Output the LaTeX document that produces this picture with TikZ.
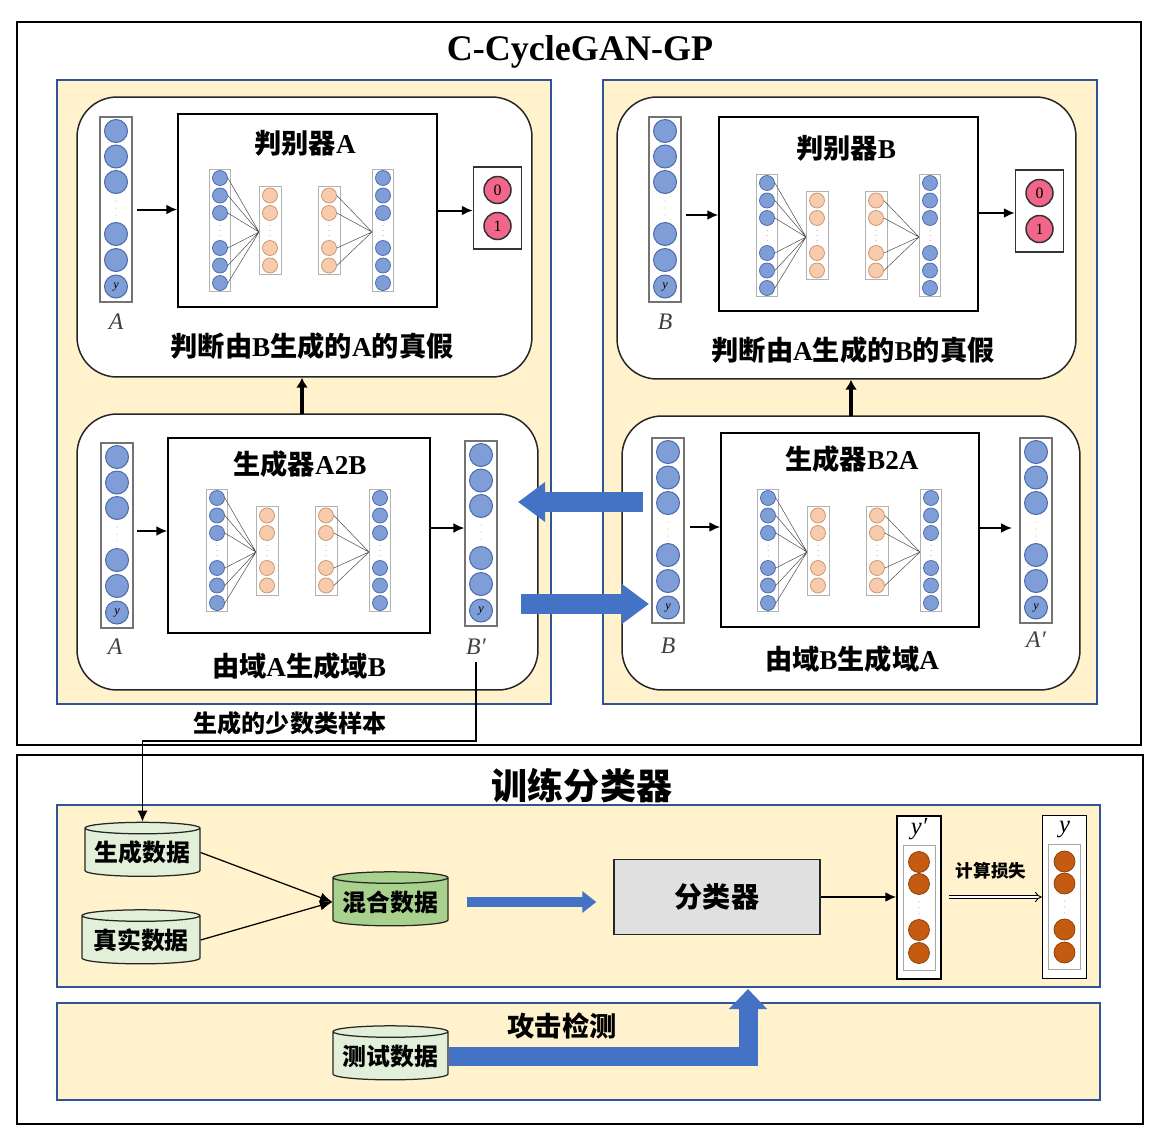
\documentclass[tikz,border=0pt]{standalone}
\usepackage{fontspec}
\setmainfont{Liberation Serif}
\newfontfamily\cjk{Noto Sans CJK SC}
\usetikzlibrary{shapes.geometric,arrows.meta}

\definecolor{panelfill}{HTML}{FFF2CC}
\definecolor{panelline}{HTML}{2F5597}
\definecolor{arrowblue}{HTML}{4472C4}
\definecolor{unitblue}{HTML}{7F9ED8}
\definecolor{unitblueline}{HTML}{4A6AA8}
\definecolor{unitorange}{HTML}{F8CBAD}
\definecolor{unitorangeline}{HTML}{C8956E}
\definecolor{unitpink}{HTML}{F2668B}
\definecolor{unitbrown}{HTML}{C55A11}
\definecolor{datagreen}{HTML}{E2F0D9}
\definecolor{mixgreen}{HTML}{A9D18E}
\definecolor{clsgray}{HTML}{E0E0E0}

\newcommand{\zh}[1]{{\cjk\bfseries #1}}

\tikzset{
    panel/.style={draw=panelline, line width=0.05cm, fill=panelfill, inner sep=0pt},
    frame/.style={draw=black, line width=0.045cm, inner sep=0pt},
    stage/.style={draw=black!85, line width=0.03cm, fill=white, rounded corners=0.8cm, inner sep=0pt},
    netframe/.style={draw=black, line width=0.03cm, fill=white, inner sep=0pt},
    vecbox/.style={draw=black!55, line width=0.025cm, fill=white, inner sep=0pt, minimum width=0.64cm, minimum height=3.7cm},
    colbox/.style={draw=black!30, line width=0.02cm, fill=white, inner sep=0pt},
    bigunit/.style={circle, draw=unitblueline, line width=0.02cm, fill=unitblue, minimum size=0.46cm, inner sep=0pt},
    netunit/.style={circle, draw=unitblueline, line width=0.015cm, fill=unitblue, minimum size=0.3cm, inner sep=0pt},
    hidunit/.style={circle, draw=unitorangeline, line width=0.015cm, fill=unitorange, minimum size=0.3cm, inner sep=0pt},
    outunit/.style={circle, draw=black!80, line width=0.03cm, fill=unitpink, minimum size=0.54cm, inner sep=0pt, font=\fontsize{9}{9}\selectfont},
    predunit/.style={circle, draw=unitbrown!70!black, line width=0.015cm, fill=unitbrown, minimum size=0.42cm, inner sep=0pt},
    wire/.style={draw=black!70, line width=0.01cm},
    flow/.style={-{Latex[length=0.22cm, width=0.2cm]}, line width=0.04cm},
    feed/.style={-{Latex[length=0.2cm, width=0.24cm]}, line width=0.09cm},
    swap/.style={draw=arrowblue, line width=0.4cm, -{Triangle[length=0.54cm, width=0.76cm]}},
    thinswap/.style={draw=arrowblue, line width=0.2cm, -{Triangle[length=0.28cm, width=0.42cm]}},
    data/.style={cylinder, shape border rotate=90, aspect=0.12, draw=black!85, line width=0.025cm, fill=datagreen, minimum width=2.3cm, minimum height=1.08cm, inner sep=0pt, font=\fontsize{13.6}{16}\selectfont},
    heading/.style={font=\fontsize{20.5}{24}\selectfont\bfseries},
    caption/.style={font=\fontsize{15.5}{18}\selectfont\bfseries},
    veclabel/.style={font=\fontsize{13.5}{16}\selectfont\itshape, text=black!75}
}

% three small gray dots around (x,y), #3 apart
\newcommand{\drawdots}[3]{
    \fill[black!40] (#1,#2-#3) circle [radius=0.5];
    \fill[black!40] (#1,#2) circle [radius=0.5];
    \fill[black!40] (#1,#2+#3) circle [radius=0.5];
}

% input column: six units, the last one marked y
\newcommand{\drawvector}[3]{
    \node[vecbox] (#1) at (#2,#3+78.5) {};
    \node[bigunit] (#1u1) at (#2,#3) {};
    \node[bigunit] (#1u2) at (#2,#3+25.5) {};
    \node[bigunit] (#1u3) at (#2,#3+51) {};
    \drawdots{#2}{#3+77}{7}
    \node[bigunit] (#1u4) at (#2,#3+103) {};
    \node[bigunit] (#1u5) at (#2,#3+129) {};
    \node[bigunit, font=\fontsize{7}{7}\selectfont\itshape] (#1u6) at (#2,#3+155.5) {y};
}

% layer of six blue units
\newcommand{\netcolumn}[3]{
    \node[colbox, minimum width=0.42cm, minimum height=2.46cm] (#1) at (#2,#3+52.5) {};
    \node[netunit] (#1u1) at (#2,#3) {};
    \node[netunit] (#1u2) at (#2,#3+17.5) {};
    \node[netunit] (#1u3) at (#2,#3+35) {};
    \drawdots{#2}{#3+52.5}{5}
    \node[netunit] (#1u4) at (#2,#3+70) {};
    \node[netunit] (#1u5) at (#2,#3+87.5) {};
    \node[netunit] (#1u6) at (#2,#3+105) {};
}

% layer of four orange units
\newcommand{\hiddencolumn}[3]{
    \node[colbox, minimum width=0.44cm, minimum height=1.78cm] (#1) at (#2,#3+52.5) {};
    \node[hidunit] (#1u1) at (#2,#3+17.5) {};
    \node[hidunit] (#1u2) at (#2,#3+35) {};
    \drawdots{#2}{#3+52.5}{5}
    \node[hidunit] (#1u3) at (#2,#3+70) {};
    \node[hidunit] (#1u4) at (#2,#3+87.5) {};
}

\newcommand{\drawnet}[3]{
    \netcolumn{#1a}{#2}{#3}
    \hiddencolumn{#1b}{#2+50}{#3}
    \hiddencolumn{#1c}{#2+109}{#3}
    \netcolumn{#1d}{#2+163}{#3}
    \coordinate (#1p) at (#2+39,#3+54);
    \coordinate (#1q) at (#2+152,#3+54);

    % Edges
    \draw[wire] (#1au1.east) -- (#1p) (#1au2.east) -- (#1p) (#1au3.east) -- (#1p)
                (#1au4.east) -- (#1p) (#1au5.east) -- (#1p) (#1au6.east) -- (#1p);
    \draw[wire] (#1cu1.east) -- (#1q) (#1cu2.east) -- (#1q)
                (#1cu3.east) -- (#1q) (#1cu4.east) -- (#1q);
}

% real / fake output
\newcommand{\drawoutput}[3]{
    \node[draw=black!80, line width=0.03cm, fill=white, minimum width=0.96cm, minimum height=1.64cm, inner sep=0pt] (#1) at (#2,#3) {};
    \node[outunit] (#1u1) at (#2,#3-18) {0};
    \node[outunit] (#1u2) at (#2,#3+18) {1};
}

% label vector of the classifier
\newcommand{\drawpred}[4]{
    \node[draw=black, line width=0.03cm, fill=white, minimum width=0.88cm, minimum height=3.26cm, inner sep=0pt] (#1) at (#2,#3) {};
    \node[colbox, draw=black!35, minimum width=0.64cm, minimum height=2.5cm] (#1inner) at (#2,#3+10) {};
    \node[veclabel, text=black, font=\fontsize{14}{16}\selectfont\itshape] (#1label) at (#2,#3-68) {#4};
    \node[predunit] (#1u1) at (#2,#3-35.5) {};
    \node[predunit] (#1u2) at (#2,#3-13.5) {};
    \drawdots{#2}{#3+10}{6}
    \node[predunit] (#1u3) at (#2,#3+32.5) {};
    \node[predunit] (#1u4) at (#2,#3+55.5) {};
}

\begin{document}
\begin{tikzpicture}[x=0.02cm, y=-0.02cm]
    \useasboundingbox (0,0) rectangle (1152,1136);

    % CycleGAN part
    \node[frame, minimum width=22.48cm, minimum height=14.46cm] (ganFrame) at (579,383.5) {};
    \node[heading] (ganTitle) at (580,52) {C-CycleGAN-GP};
    \node[panel, minimum width=9.88cm, minimum height=12.48cm] (leftPanel) at (304,392) {};
    \node[panel, minimum width=9.88cm, minimum height=12.48cm] (rightPanel) at (850,392) {};

    \node[stage, minimum width=9.1cm, minimum height=5.6cm] (discA) at (304.5,237) {};
    \node[stage, minimum width=9.22cm, minimum height=5.52cm] (genA) at (307.5,552) {};
    \node[stage, minimum width=9.18cm, minimum height=5.64cm] (discB) at (846.5,238) {};
    \node[stage, minimum width=9.16cm, minimum height=5.48cm] (genB) at (851,553) {};

    % Discriminator A
    \node[netframe, minimum width=5.18cm, minimum height=3.86cm] (netA) at (307.5,210.5) {};
    \node[caption] (netAtitle) at (305,143) {\zh{判别器}A};
    \drawnet{nA}{220}{178}
    \drawvector{inA}{116}{131}
    \node[veclabel] (inAlabel) at (116,322) {A};
    \drawoutput{outA}{497.5}{208}
    \draw[flow] (inA.east -| 137,0) -- (inA.east -| netA.west);
    \draw[flow] (netA.east) -- (netA.east -| outA.west);
    \node[caption] (discAtext) at (312,346) {\zh{判断由}B\zh{生成的}A\zh{的真假}};

    % Generator A2B
    \node[netframe, minimum width=5.24cm, minimum height=3.9cm] (netGA) at (299,535.5) {};
    \node[caption] (netGAtitle) at (300,464) {\zh{生成器}A2B};
    \drawnet{nGA}{217}{498}
    \drawvector{inGA}{117}{457}
    \node[veclabel] (inGAlabel) at (115,647) {A};
    \drawvector{outGA}{481}{455}
    \node[veclabel] (outGAlabel) at (476,647) {B′};
    \draw[flow] (137,531) -- (137,531 -| netGA.west);
    \draw[flow] (netGA.east |- 0,528) -- (outGA.west |- 0,528);
    \node[caption] (genAtext) at (299,666) {\zh{由域}A\zh{生成域}B};

    % Discriminator B
    \node[netframe, minimum width=5.18cm, minimum height=3.88cm] (netB) at (848.5,214) {};
    \node[caption] (netBtitle) at (846,148) {\zh{判别器}B};
    \drawnet{nB}{767}{183}
    \drawvector{inB}{665}{131}
    \node[veclabel] (inBlabel) at (665,322) {B};
    \drawoutput{outB}{1039.5}{211}
    \draw[flow] (686,215) -- (686,215 -| netB.west);
    \draw[flow] (netB.east |- 0,213) -- (outB.west |- 0,213);
    \node[caption] (discBtext) at (853,350) {\zh{判断由}A\zh{生成的}B\zh{的真假}};

    % Generator B2A
    \node[netframe, minimum width=5.16cm, minimum height=3.88cm] (netGB) at (850,530) {};
    \node[caption] (netGBtitle) at (852,459) {\zh{生成器}B2A};
    \drawnet{nGB}{768}{498}
    \drawvector{inGB}{668}{452}
    \node[veclabel] (inGBlabel) at (668,646) {B};
    \drawvector{outGB}{1036}{452}
    \node[veclabel] (outGBlabel) at (1036,640) {A′};
    \draw[flow] (690,527) -- (690,527 -| netGB.west);
    \draw[flow] (netGB.east |- 0,528) -- (1012,528);
    \node[caption] (genBtext) at (852,659) {\zh{由域}B\zh{生成域}A};

    % generators feed the discriminators
    \draw[feed] (302,414) -- (302,414 |- discA.south);
    \draw[feed] (851,416) -- (851,416 |- discB.south);

    % cycle between the two domains
    \coordinate (swapLs) at (643,502);
    \coordinate (swapLe) at (518,502);
    \coordinate (swapRs) at (521,604);
    \coordinate (swapRe) at (649,604);
    \draw[swap] (swapLs) -- (swapLe);
    \draw[swap] (swapRs) -- (swapRe);

    % Classifier part
    \node[frame, minimum width=22.52cm, minimum height=7.38cm] (clsFrame) at (580,939.5) {};
    \node[heading] (clsTitle) at (582,786) {\zh{训练分类器}};
    \node[panel, minimum width=20.86cm, minimum height=3.64cm] (trainPanel) at (578.5,896) {};
    \node[panel, minimum width=20.86cm, minimum height=1.94cm] (testPanel) at (578.5,1051.5) {};

    \node[data] (genData) at (142.5,852.5) {\zh{生成数据}};
    \node[data, minimum width=2.36cm] (realData) at (141,940) {\zh{真实数据}};
    \node[data, fill=mixgreen] (mixData) at (390.5,902) {\zh{混合数据}};
    \node[data] (testData) at (390.5,1056) {\zh{测试数据}};
    \node[draw=black!85, line width=0.03cm, fill=clsgray, minimum width=4.12cm, minimum height=1.5cm, font=\fontsize{16}{18}\selectfont] (cls) at (717,897) {\zh{分类器}};
    \drawpred{yp}{919}{897.5}{y′}
    \drawpred{yt}{1064.5}{897}{y}
    \node[font=\fontsize{10}{12}\selectfont] (lossText) at (991,871) {\zh{计算损失}};
    \node[font=\fontsize{15.5}{18}\selectfont] (attackText) at (562,1026) {\zh{攻击检测}};

    % generated minority samples
    \node[font=\fontsize{13.7}{16}\selectfont] (sampleText) at (290,723) {\zh{生成的少数类样本}};
    \draw[flow, line width=0.03cm] (476,662) -- (476,741) -| (genData.north);

    \draw[-{Latex[length=0.25cm, width=0.2cm]}, line width=0.025cm] (genData.east) -- (mixData.west);
    \draw[-{Latex[length=0.25cm, width=0.2cm]}, line width=0.025cm] (realData.east) -- (mixData.west);
    \draw[thinswap, shorten <=0.36cm, shorten >=0.34cm] (mixData.east) -- (mixData.east -| cls.west);
    \draw[flow] (cls.east) -- (cls.east -| yp.west);
    \draw[double=white, double distance=0.05cm, line width=0.018cm, -{Implies}] (yp.east |- 0,897) ++(7,0) -- (yt.west |- 0,897);
    \coordinate (testTip) at (748,989);
    \draw[swap, line width=0.38cm, line join=miter, -{Triangle[length=0.4cm, width=0.74cm]}] (testData.east) -| (testTip);
\end{tikzpicture}
\end{document}
